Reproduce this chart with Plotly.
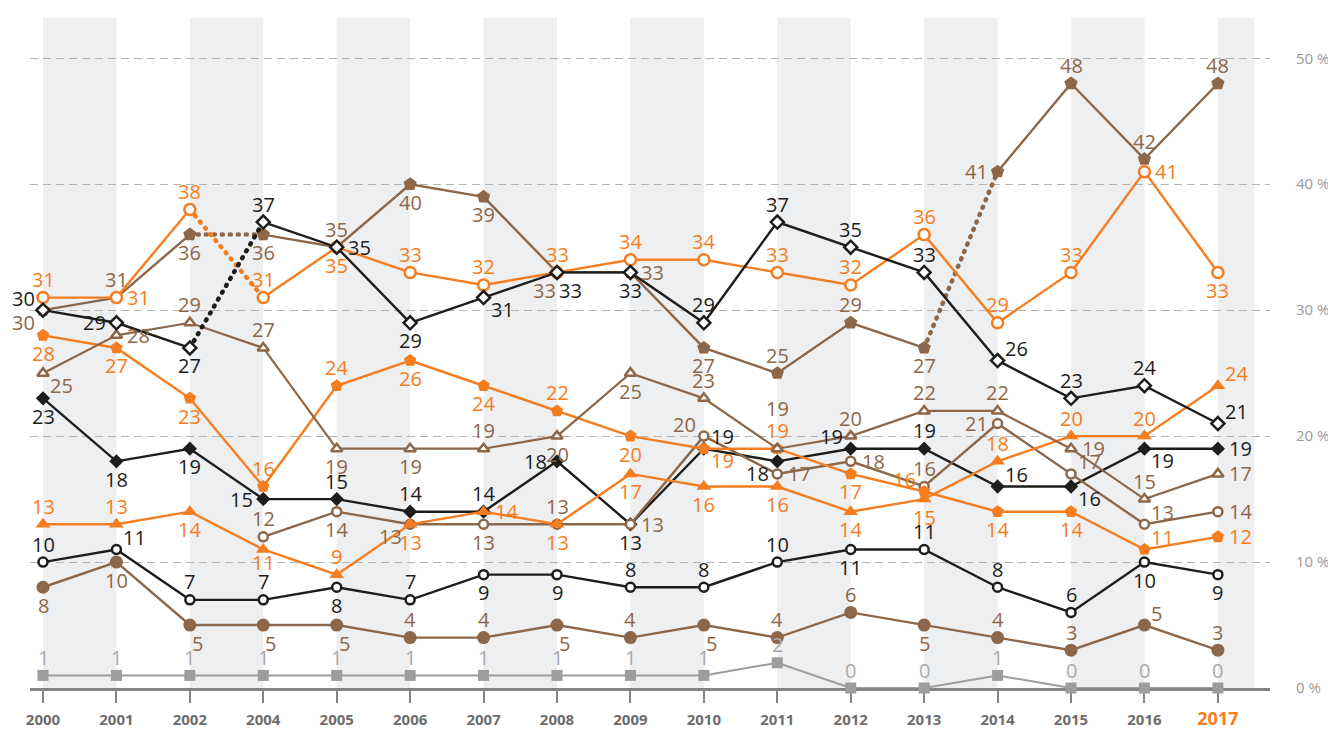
import plotly.graph_objects as go

# ---------------- data ----------------
years = ["2000", "2001", "2002", "2004", "2005", "2006", "2007", "2008", "2009",
         "2010", "2011", "2012", "2013", "2014", "2015", "2016", "2017"]

orange_open_circle = [31, 31, 38, 31, 35, 33, 32, 33, 34, 34, 33, 32, 36, 29, 33, 41, 33]
brown_house = [30, 31, 36, 36, 35, 40, 39, 33, 33, 27, 25, 29, 27, 41, 48, 42, 48]
black_open_diamond = [30, 29, 27, 37, 35, 29, 31, 33, 33, 29, 37, 35, 33, 26, 23, 24, 21]
orange_pentagon = [28, 27, 23, 16, 24, 26, 24, 22, 20, 19, 19, 17, 15.6, 14, 14, 11, 12]
brown_open_triangle = [25, 28, 29, 27, 19, 19, 19, 20, 25, 23, 19, 20, 22, 22, 19, 15, 17]
black_diamond = [23, 18, 19, 15, 15, 14, 14, 18, 13, 19, 18, 19, 19, 16, 16, 19, 19]
orange_triangle = [13, 13, 14, 11, 9, 13, 14, 13, 17, 16, 16, 14, 15, 18, 20, 20, 24]
brown_open_circle = [None, None, None, 12, 14, 13, 13, 13, 13, 20, 17, 18, 16, 21, 17, 13, 14]
black_open_circle = [10, 11, 7, 7, 8, 7, 9, 9, 8, 8, 10, 11, 11, 8, 6, 10, 9]
brown_circle = [8, 10, 5, 5, 5, 4, 4, 5, 4, 5, 4, 6, 5, 4, 3, 5, 3]
gray_square = [1, 1, 1, 1, 1, 1, 1, 1, 1, 1, 2, 0, 0, 1, 0, 0, 0]

y_ticks = [0, 10, 20, 30, 40, 50]
y_tick_labels = ["0 %", "10 %", "20 %", "30 %", "40 %", "50 %"]

# ---------------- styles ----------------
ORANGE = "#F47D20"
BROWN = "#8C6749"
BLACK = "#1D1D1B"
GRAY = "#9D9D9F"
GRAY_LABEL = "#A9A9AB"
LABEL_SIZE = 20

# label placement codes (style only)
PLACE = {
    "t": ("center", 0, 18),
    "tt": ("center", 0, 40),
    "b": ("center", 0, -18),
    "bs": ("center", 0, -13),
    "l": ("right", -8, 0),
    "r": ("left", 9, 0),
    "tl": ("right", -6, 12),
    "tr": ("left", 5, 12),
    "bl": ("right", -6, -12),
    "br": ("left", 5, -12),
    "bR": ("left", 0, -18),
    "bL": ("right", 1, -18),
}

series = [
    dict(vals=gray_square, color=GRAY, lab=GRAY_LABEL, symbol="square", size=11, hollow=False, lw=2,
         dotted=[], pos=["t"] * 17),
    dict(vals=brown_circle, color=BROWN, lab=BROWN, symbol="circle", size=13, hollow=False, lw=2.4,
         dotted=[], pos=["b", "b", "bR", "bR", "bR", "t", "t", "bR", "t", "bR", "t", "t", "b", "t", "t", "tr", "t"]),
    dict(vals=black_open_circle, color=BLACK, lab=BLACK, symbol="circle", size=9, hollow=True, lw=2.4,
         dotted=[], pos=["t", "tr", "t", "t", "b", "t", "b", "b", "t", "t", "t", "b", "t", "t", "t", "b", "b"]),
    dict(vals=black_diamond, color=BLACK, lab=BLACK, symbol="diamond", size=11, hollow=False, lw=2.4,
         dotted=[], pos=["b", "b", "b", "l", "t", "t", "t", "l", "b", "tr", "bl", "tl", "t", "tr", "br", "br", "r"]),
    dict(vals=brown_open_circle, color=BROWN, lab=BROWN, symbol="circle", size=9, hollow=True, lw=2.4,
         dotted=[], pos=[None, None, None, "t", "b", "bl", "b", "t", "r", "tl", "r", "r", "t", "l", "tr", "tr", "r"]),
    dict(vals=orange_pentagon, color=ORANGE, lab=ORANGE, symbol="pentagon", size=13, hollow=False, lw=2.4,
         dotted=[], pos=["b", "b", "b", "t", "t", "b", "b", "t", "b", "br", "t", "b", "tl", "b", "b", "tr", "r"]),
    dict(vals=orange_triangle, color=ORANGE, lab=ORANGE, symbol="triangle-up", size=13, hollow=False, lw=2.4,
         dotted=[], pos=["t", "t", "b", "bs", "t", "b", "r", "b", "b", "b", "b", "b", "b", "t", "t", "t", "tr"]),
    dict(vals=brown_open_triangle, color=BROWN, lab=BROWN, symbol="triangle-up", size=10, hollow=True, lw=2.2,
         dotted=[], pos=["br", "r", "t", "t", "b", "b", "t", "b", "b", "t", "tt", "t", "t", "t", "r", "t", "r"]),
    dict(vals=brown_house, color=BROWN, lab=BROWN, symbol="pentagon", size=14, hollow=False, lw=2.4,
         dotted=[2, 12], pos=["bl", "t", "b", "b", "t", "b", "b", "bL", "r", "b", "t", "t", "b", "l", "t", "t", "t"]),
    dict(vals=orange_open_circle, color=ORANGE, lab=ORANGE, symbol="circle", size=11, hollow=True, lw=2.4,
         dotted=[2], pos=["t", "r", "t", "t", "b", "t", "t", "t", "t", "t", "t", "t", "t", "t", "t", "r", "b"]),
    dict(vals=black_open_diamond, color=BLACK, lab=BLACK, symbol="diamond", size=10, hollow=True, lw=2.4,
         dotted=[2], pos=["tl", "l", "b", "t", "r", "b", "br", "bR", "b", "t", "t", "t", "t", "tr", "t", "t", "tr"]),
]


def pieces(n, dotted):
    out, start = [], 0
    for c in sorted(dotted):
        out.append((start, c))
        start = c + 1
    out.append((start, n - 1))
    return out


fig = go.Figure()
annotations = []
n = len(years)
xi = list(range(n))  # category positions

for s in series:
    vals = s["vals"]
    for a, b in pieces(n, s["dotted"]):
        if b > a:
            fig.add_trace(go.Scatter(x=years[a:b + 1], y=vals[a:b + 1], mode="lines",
                                     line=dict(color=s["color"], width=s["lw"]),
                                     hoverinfo="skip", connectgaps=False))
    for c in s["dotted"]:
        fig.add_trace(go.Scatter(x=years[c:c + 2], y=vals[c:c + 2], mode="lines",
                                 line=dict(color=s["color"], width=4.5, dash="1px,7px"),
                                 hoverinfo="skip"))
    if s["hollow"]:
        marker = dict(symbol=s["symbol"], size=s["size"], color="white",
                      line=dict(color=s["color"], width=2.5))
    else:
        marker = dict(symbol=s["symbol"], size=s["size"], color=s["color"],
                      line=dict(width=0))
    fig.add_trace(go.Scatter(x=years, y=vals, mode="markers", marker=marker,
                             cliponaxis=False, hoverinfo="x+y"))
    for i, v, p in zip(xi, vals, s["pos"]):
        if v is None or p is None:
            continue
        xa, xs, ys = PLACE[p]
        annotations.append(dict(x=i, y=v, xref="x", yref="y", text=str(int(round(v))),
                                showarrow=False, xanchor=xa, yanchor="middle",
                                xshift=xs, yshift=ys,
                                font=dict(family="Open Sans", size=LABEL_SIZE, color=s["lab"])))

shapes = []
for i in range(0, n, 2):
    shapes.append(dict(type="rect", xref="x", yref="y", x0=i, x1=min(i + 1, n - 0.5),
                       y0=0, y1=53.2, fillcolor="#EEEFF1", line=dict(width=0), layer="below"))

ticktext = [y if y != "2017" else '<span style="color:%s;font-size:18px">2017</span>' % ORANGE
            for y in years]

fig.update_layout(
    width=1328, height=731,
    margin=dict(l=30, r=58, t=18, b=43, autoexpand=False),
    paper_bgcolor="white", plot_bgcolor="white",
    showlegend=False,
    font=dict(family="Open Sans"),
    shapes=shapes,
    annotations=annotations,
    xaxis=dict(type="category", categoryorder="array", categoryarray=years, automargin=False,
               range=[-0.177, 16.71], showgrid=False, zeroline=False,
               showline=True, linecolor="#858585", linewidth=2.5, layer="below traces",
               ticks="outside", ticklen=12, tickwidth=2, tickcolor="#858585",
               tickvals=years, ticktext=ticktext, ticklabelstandoff=4,
               tickfont=dict(family="Open Sans", size=15, color="#6d6d6d", weight="bold")),
    yaxis=dict(range=[0, 53.2], side="right", tickmode="array", tickvals=y_ticks, ticktext=y_tick_labels,
               automargin=False,
               showgrid=True, gridcolor="#b3b3b3", gridwidth=1, griddash="8px,5px",
               zeroline=False, showline=False, ticks="outside", ticklen=22,
               tickcolor="rgba(0,0,0,0)",
               tickfont=dict(family="Open Sans", size=15, color="#9a9a9a")),
)

post = """
document.body.style.margin='0';
var gd = document.getElementById('{plot_id}');
function rc(){ gd.querySelectorAll('path.js-line').forEach(function(p){
  var d = p.style.strokeDasharray; if (d && d !== 'none' && d.indexOf(',') >= 0) { p.style.strokeLinecap = 'round'; } }); }
rc(); setTimeout(rc, 50); setTimeout(rc, 300);
"""

fig.write_html("out.html", post_script=post, config={"displayModeBar": False})
